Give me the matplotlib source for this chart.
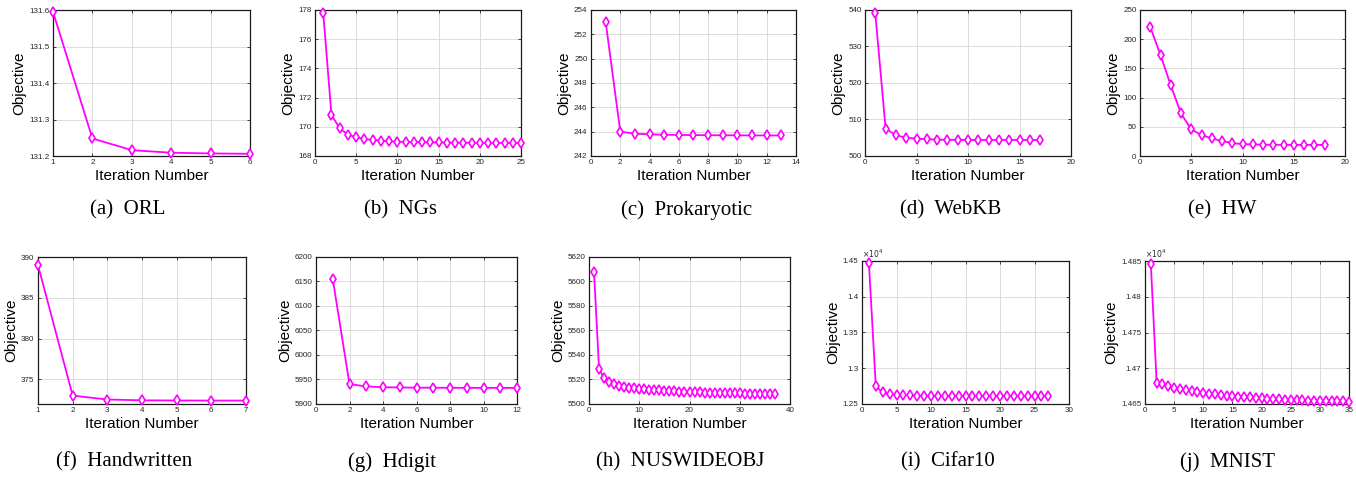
import numpy as np
import matplotlib
matplotlib.use("Agg")
import matplotlib.pyplot as plt
from matplotlib.ticker import FuncFormatter

# objective values per iteration
orl = [131.595, 131.248, 131.216, 131.209, 131.207, 131.206]
ngs = [177.77, 170.81, 169.90, 169.46, 169.28, 169.16, 169.10, 169.05, 169.00, 168.98,
       168.96, 168.95, 168.94, 168.93, 168.93, 168.92, 168.92, 168.91, 168.91, 168.91,
       168.90, 168.90, 168.90, 168.90, 168.90]
prokaryotic = [253.04, 244.00, 243.84, 243.78, 243.75, 243.73, 243.72, 243.71, 243.70,
               243.70, 243.69, 243.69, 243.69]
webkb = [539.1, 507.5, 505.7, 505.0, 504.75, 504.6, 504.5, 504.45, 504.42, 504.4,
         504.4, 504.38, 504.38, 504.37, 504.37, 504.36, 504.36]
hw = [220.9, 173.0, 121.0, 73.0, 45.5, 35.8, 30.1, 25.6, 22.1, 20.4, 19.9, 19.4,
      19.2, 19.1, 19.0, 19.0, 19.0, 19.0]
handwritten = [389.0, 373.03, 372.55, 372.45, 372.43, 372.42, 372.42]
hdigit = [6155.0, 5940.6, 5935.8, 5934.4, 5933.7, 5933.4, 5933.2, 5933.1, 5933.0,
          5932.9, 5932.9, 5932.8]
nuswideobj = [5607.5, 5528.6, 5521.0, 5518.3, 5516.4, 5515.0, 5514.2, 5513.4, 5513.1,
              5512.6, 5512.2, 5511.8, 5511.4, 5511.1, 5510.8, 5510.5, 5510.3, 5510.1,
              5509.9, 5509.8, 5509.6, 5509.5, 5509.3, 5509.2, 5509.1, 5509.0, 5508.9,
              5508.8, 5508.7, 5508.6, 5508.5, 5508.4, 5508.3, 5508.2, 5508.1, 5508.0,
              5507.9]
cifar10 = [14472, 12748, 12664, 12636, 12630, 12625, 12621, 12618, 12616, 12615,
           12614, 12613, 12612, 12611, 12611, 12610, 12610, 12609, 12609, 12608,
           12608, 12608, 12607, 12607, 12607, 12607, 12607]
mnist = [14846, 14679.9, 14677.5, 14675.0, 14672.4, 14671.0, 14669.5, 14668.0,
         14666.6, 14665.5, 14664.4, 14663.4, 14662.5, 14661.6, 14660.9, 14660.3,
         14659.7, 14659.1, 14658.6, 14658.1, 14657.6, 14657.1, 14656.6, 14656.1,
         14655.7, 14655.3, 14655.0, 14654.7, 14654.4, 14654.2, 14654.0, 14653.8,
         14653.6, 14653.5, 14653.4]

captions = ["(a)  ORL", "(b)  NGs", "(c)  Prokaryotic", "(d)  WebKB", "(e)  HW",
            "(f)  Handwritten", "(g)  Hdigit", "(h)  NUSWIDEOBJ", "(i)  Cifar10", "(j)  MNIST"]
series = [orl, ngs, prokaryotic, webkb, hw, handwritten, hdigit, nuswideobj, cifar10, mnist]

xlims = [(1, 6), (0, 25), (0, 14), (0, 20), (0, 20), (1, 7), (0, 12), (0, 40), (0, 30), (0, 35)]
xsteps = [1, 5, 2, 5, 5, 1, 2, 10, 5, 5]
ylims = [(131.2, 131.6), (168, 178), (242, 254), (500, 540), (0, 250),
         (372, 390), (5900, 6200), (5500, 5620), (12500, 14500), (14650, 14850)]
yticks = [np.arange(131.2, 131.61, 0.1), np.arange(168, 179, 2), np.arange(242, 255, 2),
          np.arange(500, 541, 10), np.arange(0, 251, 50), [375, 380, 385, 390],
          np.arange(5900, 6201, 50), np.arange(5500, 5621, 20),
          np.arange(12500, 14501, 500), np.arange(14650, 14851, 50)]

# axes boxes in pixels: left, top, right, bottom
boxes = [(53, 10, 250, 156), (315, 10, 521, 156), (591, 10, 796, 156),
         (865, 10, 1071, 156), (1140, 10, 1345, 156),
         (38, 257, 246, 404), (316, 257, 517, 404), (589, 257, 790, 404),
         (862, 261, 1069, 404), (1145, 261, 1349, 404)]
cap_pos = [(128, 210), (400, 210), (687, 210), (951, 210), (1222, 210),
           (124, 462), (392, 462), (680, 462), (948, 462), (1227, 462)]

W, H = 1356, 478
plt.rcParams['font.family'] = ['Liberation Sans', 'DejaVu Sans']
fig = plt.figure(figsize=(W / 100, H / 100), dpi=100)

for i, y in enumerate(series):
    l, t, r, b = boxes[i]
    ax = fig.add_axes([l / W, 1 - b / H, (r - l) / W, (b - t) / H])
    x = np.arange(1, len(y) + 1)
    ax.plot(x, y, color='#ff00ff', lw=1.3, marker='d', ms=5.5, mfc='white',
            mec='#ff00ff', mew=1.2, clip_on=False, zorder=3)
    ax.set_xlim(*xlims[i])
    ax.set_xticks(np.arange(xlims[i][0], xlims[i][1] + 0.01, xsteps[i]))
    ax.set_ylim(*ylims[i])
    ax.set_yticks(yticks[i])
    if i >= 8:
        ax.yaxis.set_major_formatter(FuncFormatter(lambda v, p: f"{v / 1e4:g}"))
        ax.text(0.0, 1.005, r"$\times10^4$", transform=ax.transAxes, fontsize=5.5,
                color='#262626', ha='left', va='bottom')
    elif i == 0:
        ax.yaxis.set_major_formatter(FuncFormatter(lambda v, p: f"{v:.1f}"))
    ax.grid(True, color='#d6d6d6', lw=0.6)
    ax.set_axisbelow(True)
    ax.tick_params(direction='in', length=2.5, width=0.6, labelsize=5.8,
                   top=True, right=True, pad=2.5, colors='#262626')
    for s in ax.spines.values():
        s.set_linewidth(0.9)
        s.set_color('#1a1a1a')
    ax.set_xlabel('Iteration Number', fontsize=11, labelpad=2)
    ax.set_ylabel('Objective', fontsize=11, labelpad=2)
    cx, cy = cap_pos[i]
    fig.text(cx / W, 1 - cy / H, captions[i], ha='center', va='center',
             fontsize=15, family='Liberation Serif')

fig.savefig('out.png', dpi=100)
